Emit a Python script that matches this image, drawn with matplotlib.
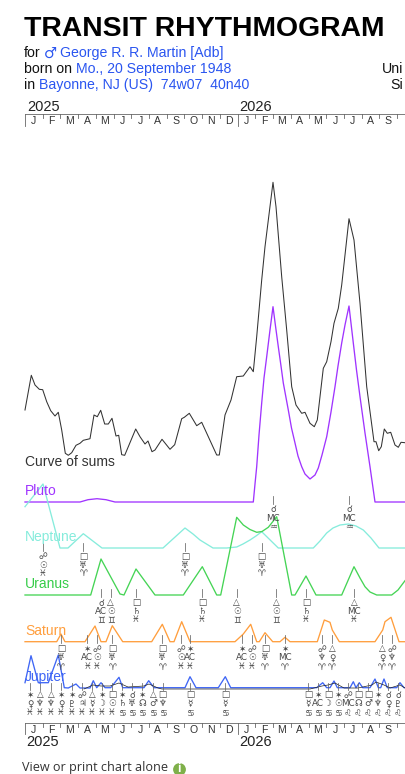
import matplotlib
matplotlib.use("Agg")
import matplotlib.pyplot as plt

plt.rcParams['font.family'] = ['Liberation Sans', 'DejaVu Sans']

# curves in chart units
sum_x = [25, 31.3, 35, 39.3, 42.7, 46.7, 50.7, 55, 58.3, 61.7, 65.3, 68.3, 71.7, 76, 80, 83.3, 90, 94, 97.3, 100.7,
         104.7, 108.3, 112, 116, 118.7, 121.7, 124.7, 135.7, 140, 145, 148, 152, 155, 162, 170, 174.7, 181.7, 184.3,
         189.3, 196.7, 201.7, 216.7, 219.3, 225, 231, 236.7, 243.3, 250, 253.3, 256.7, 261.7, 265, 273, 276, 281.7,
         286.7, 291.7, 296, 301.7, 305, 310, 314.3, 317.3, 323.3, 326.7, 331, 334, 338.3, 341.7, 349, 354, 360, 366.7,
         374, 376, 378.7, 381.3, 384.3, 387.3, 390.7, 395, 398.3, 401, 405]
sum_y = [410, 375.3, 385, 389.3, 389.7, 401.7, 410.7, 416, 412.3, 430, 453.3, 455.3, 452.7, 445.3, 443.3, 440.3, 438.7,
         415, 416.7, 410.3, 424, 424, 418.3, 436, 435.3, 454.7, 455.3, 429, 436.7, 444, 441, 451.7, 450, 439.3, 449.3,
         444.7, 418.7, 417.3, 413.3, 425.7, 422.3, 455, 455, 415, 400, 376.7, 376, 366.7, 371.7, 336.7, 280, 246.7,
         182.3, 206.7, 276.7, 330, 386.7, 405, 413.3, 412.3, 423.3, 426.7, 420, 368.3, 361.7, 341.7, 323.3, 308.3, 285,
         218.7, 240, 303.3, 386.7, 441.7, 441.7, 450.7, 446.7, 429, 433.3, 432.3, 445, 447.3, 442.3, 442.7]

pluto_x = [25, 80, 88, 97, 106, 115, 253.3, 255, 256.7, 259, 261.7, 264, 266.7, 270, 273, 275.5, 278.3, 281, 283.3,
           288.3, 291.5, 295, 298, 301.7, 305, 310, 315, 318.3, 322, 326.7, 331, 335, 338, 341.7, 345, 349, 353.3,
           356.5, 360, 365, 370, 375, 405]
pluto_y = [502, 502, 499.7, 498.7, 499.7, 502, 502, 484, 466.7, 435, 403, 378, 356.7, 330, 306.7, 326, 346.7, 366, 383,
           410, 428, 443, 456, 466.7, 474, 479, 475, 468, 455, 436.7, 412, 386.7, 366, 343, 325, 306, 343,
           370, 396.7, 433, 466.7, 502, 502]

neptune_x = [25, 43, 60, 68, 83.3, 102, 163, 174, 185, 193, 200, 213, 226.7, 236.7, 243, 250, 256, 261.7, 278.3, 313.3,
             320, 326.7, 333, 340, 348.3, 356, 363.3, 371, 379, 405]
neptune_y = [506.7, 484, 548, 548, 533.7, 548, 548, 538, 528, 534, 540, 548, 548, 547, 544, 540, 536, 531.7, 548, 548,
             541, 533, 528, 525, 524, 526, 530, 538, 548, 548]

uranus_x = [25, 90.7, 101, 120, 124, 136, 155, 183.3, 202.3, 216.7, 220.7, 236.7, 243.3, 250, 256.7, 262, 268.3, 276.7,
            291.7, 295, 306, 316, 341.7, 354, 360, 365, 370, 376.7, 391.7, 398, 405]
uranus_y = [595, 595, 559, 594, 595, 569, 595, 595, 566.7, 595, 595, 517.3, 525, 529.5, 532.3, 531.5, 527.3, 516.7,
            595, 595, 576, 595, 595, 566.7, 578, 586.7, 592, 595, 595, 590, 580.7]

saturn_x = [25, 56.7, 61, 65, 85, 95, 101, 106, 112.3, 122.7, 151.7, 162.3, 170, 174, 181.7, 190, 201.7, 235, 243.3,
            250.7, 256.7, 259.3, 265, 272.7, 280, 285, 290, 317.3, 324.3, 330, 332.3, 339.3, 375, 382.7, 385, 391, 399,
            405]
saturn_y = [641.7, 641.7, 634, 641.7, 641.7, 626, 641.7, 641.7, 625.7, 641.7, 641.7, 624.3, 641.7, 641.7, 621.7,
            641.7, 641.7, 641.7, 634, 624.3, 641.7, 641.7, 632.7, 641.7, 641.7, 637.3, 641.7, 641.7, 620, 622.3, 630,
            641.7, 641.7, 630, 621.7, 617.3, 641.7, 641.7]

jupiter_x = [25, 31, 38.3, 48.3, 58.3, 64.3, 68.3, 76, 80, 90, 93.3, 96.7, 101, 105, 110.7, 119, 122.7, 144, 148.7, 154,
             185, 190, 196, 218.3, 225.3, 230.7, 316.7, 322.7, 326.7, 330, 334, 337.3, 350, 353.3, 356, 359.3, 362.7,
             370, 375, 378.3, 380.7, 384, 387.3, 396.7, 400, 404, 405]
jupiter_y = [682.7, 655.7, 682.7, 682.7, 655, 687.7, 688, 684, 688, 688, 680.7, 687.7, 682.7, 687.7, 687.7, 677.3,
             687.7, 687.7, 680.7, 687.7, 687.7, 676.7, 687.7, 687.7, 676.7, 687.7, 687.7, 682.7, 687.7, 687.7, 681,
             687.7, 687.7, 681.7, 687.7, 682.7, 687.7, 687.7, 679, 687.7, 687.7, 679, 687.7, 687.7, 682.7, 687.7, 687.7]

# thin black line under jupiter
minor_x = [84, 93, 101, 110, 119, 128, 144, 149, 158, 162, 310, 322, 328, 335, 344, 358, 372, 376, 384, 390, 400, 405]
minor_y = [689, 685, 686, 686, 683, 687, 686, 684, 688, 689, 689, 686, 685, 683, 688, 688, 685, 682, 685, 688, 685, 688]

# glyph columns, one list per transit planet: x, aspect, natal point, sign
pluto_cols = [(273.3, '☌', 'MC', '♒'), (349, '☌', 'MC', '♒')]
neptune_cols = [(42.7, '☍', '☉', '♓'), (83.3, '□', '♅', '♈'), (185, '□', '♅', '♈'), (261.7, '□', '♅', '♈')]
uranus_cols = [(101, '☌', 'AC', '♊'), (110.7, '△', '☉', '♊'), (136, '□', '♄', '♓'), (202, '□', '♄', '♓'),
               (236.7, '△', '☉', '♊'), (276, '△', '☉', '♊'), (306, '□', '♄', '♓'), (354, '△', 'MC', '♓')]
saturn_cols = [(61, '□', '♅', '♈'), (87.3, '✶', 'AC', '♓'), (97, '☍', '☉', '♓'), (112.3, '□', '♅', '♈'),
               (162.3, '□', '♅', '♈'), (181, '☍', '☉', '♓'), (190, '✶', 'AC', '♓'), (242, '✶', 'AC', '♓'),
               (252, '☍', '☉', '♓'), (265, '□', '♅', '♈'), (285, '✶', 'MC', '♈'), (322, '☍', '♆', '♈'),
               (332, '△', '♀', '♈'), (382, '△', '♀', '♈'), (392, '☍', '♆', '♈')]
jupiter_cols = [(30, '✶', '♀', '♓'), (40, '△', '♆', '♓'), (51, '△', '♆', '♓'), (61, '✶', '♀', '♓'), (71.7, '✶', '♇', '♓'),
                (82, '☍', '♃', '♓'), (92, '△', '☿', '♓'), (102, '✶', '☽', '♓'), (112, '□', '☉', '♓'), (122, '✶', '♄', '♋'),
                (132, '☌', '♅', '♋'), (142, '✶', '☊', '♋'), (153, '△', '♂', '♋'), (162.5, '□', '♆', '♋'),
                (190, '□', '☿', '♋'), (225, '□', '☿', '♋'), (308, '□', '☿', '♋'), (317.5, '✶', 'AC', '♋'),
                (328, '□', '☽', '♋'), (338, '✶', '☉', '♋'), (348, '☍', 'MC', '♌'), (358, '□', '☊', '♌'),
                (368, '□', '♂', '♌'), (378, '✶', '♆', '♌'), (388, '☌', '♀', '♌'), (398, '☌', '♇', '♌')]

month_letters = ['J', 'F', 'M', 'A', 'M', 'J', 'J', 'A', 'S', 'O', 'N', 'D'] * 2
years = ['2025', '2026']

chart_left = 25
month_w = 17.72
ink = '#333333'

fig = plt.figure(figsize=(4.05, 7.74), dpi=100)
ax = fig.add_axes([0, 0, 1, 1])
ax.set_xlim(0, 405)
ax.set_ylim(774, 0)
ax.axis('off')

# curves
ax.plot(sum_x, sum_y, color='#333333', lw=0.75)
ax.plot(pluto_x, pluto_y, color='#a034ff', lw=0.95)
ax.plot(neptune_x, neptune_y, color='#86ecdc', lw=0.95)
ax.plot(uranus_x, uranus_y, color='#45d455', lw=0.95)
ax.plot(saturn_x, saturn_y, color='#ff9e3d', lw=0.95)
ax.plot(jupiter_x, jupiter_y, color='#3f66f5', lw=0.95)
ax.plot(minor_x, minor_y, color='#222222', lw=0.5)

# time scales
for y0, short, tall, ly in [(114, 4, 12, 121), (722.7, 4, 11, 730)]:
    ax.plot([chart_left, 405], [y0, y0], color='#666666', lw=0.6)
    for i in range(22):
        x = chart_left + i * month_w
        h = tall if i % 12 == 0 else short
        ax.plot([x, x], [y0, y0 + h], color='#666666', lw=0.6)
        if i < 21:
            ax.text(x + month_w / 2, ly, month_letters[i], fontsize=7.6, ha='center', va='center', color=ink)

for i, yr in enumerate(years):
    x = 27 + i * 12 * month_w
    ax.text(x, 107, yr, fontsize=10.5, ha='left', va='center', color='#222222')
    ax.text(x - 0.5, 741.5, yr, fontsize=10.5, ha='left', va='center', color='#222222')

# header
ax.text(24, 28.5, 'TRANSIT RHYTHMOGRAM', fontsize=20.4, fontweight='bold', ha='left', va='center', color='#000000')
blue = '#2a55f0'
ax.text(24, 53, 'for', fontsize=10.2, va='center', color='#111111')
ax.text(44, 53, '♂', fontsize=10.5, va='center', color=blue, family='DejaVu Sans')
ax.text(60, 53, 'George R. R. Martin [Adb]', fontsize=10.2, va='center', color=blue)
ax.text(24, 69, 'born on', fontsize=10.2, va='center', color='#111111')
ax.text(76, 69, 'Mo., 20 September 1948', fontsize=10.2, va='center', color=blue)
ax.text(24, 85, 'in', fontsize=10.2, va='center', color='#111111')
ax.text(39, 85, 'Bayonne, NJ (US)  74w07  40n40', fontsize=10.2, va='center', color=blue)
ax.text(382, 69, 'Uni', fontsize=10.2, va='center', color='#111111')
ax.text(390, 85, 'Si', fontsize=10.2, va='center', color='#111111')

# band labels
ax.text(25, 462.5, 'Curve of sums', fontsize=10, va='center', color='#333333')
ax.text(25, 491, 'Pluto', fontsize=10, va='center', color='#a034ff')
ax.text(25, 537.5, 'Neptune', fontsize=10, va='center', color='#86ecdc')
ax.text(25, 584, 'Uranus', fontsize=10, va='center', color='#35cc48')
ax.text(25, 631, 'Saturn', fontsize=10, va='center', color='#ff9e3d')
ax.text(25, 677, 'Jupiter', fontsize=10, va='center', color='#3f66f5')

# glyph stacks
def stack(cols, tick_top, tick_bot, y1, y2, y3):
    for x, a, p, s in cols:
        ax.plot([x, x], [tick_top, tick_bot], color='#666666', lw=0.55)
        for y, g in [(y1, a), (y2, p), (y3, s)]:
            ax.text(x, y, g, fontsize=6.3, ha='center', va='center', color='#444444', family='DejaVu Sans')

stack(pluto_cols, 496, 504, 510, 518.5, 527)
stack(neptune_cols, 543, 550.5, 556.5, 565, 573.5)
stack(uranus_cols, 589, 597, 603, 611.5, 620)
stack(saturn_cols, 635, 643, 649, 658, 667)
stack(jupiter_cols, 683, 690, 695, 704, 713)

# footer
ax.text(22, 771.5, 'View or print chart alone', fontsize=9.1, va='baseline', color='#333333', family='Open Sans')
ax.scatter([179], [768.5], s=85, color='#7fb04a', zorder=3, lw=0)
ax.text(179, 768.5, 'i', fontsize=9, fontweight='bold', ha='center', va='center', color='white', zorder=4)

fig.savefig('out.png', dpi=100)
